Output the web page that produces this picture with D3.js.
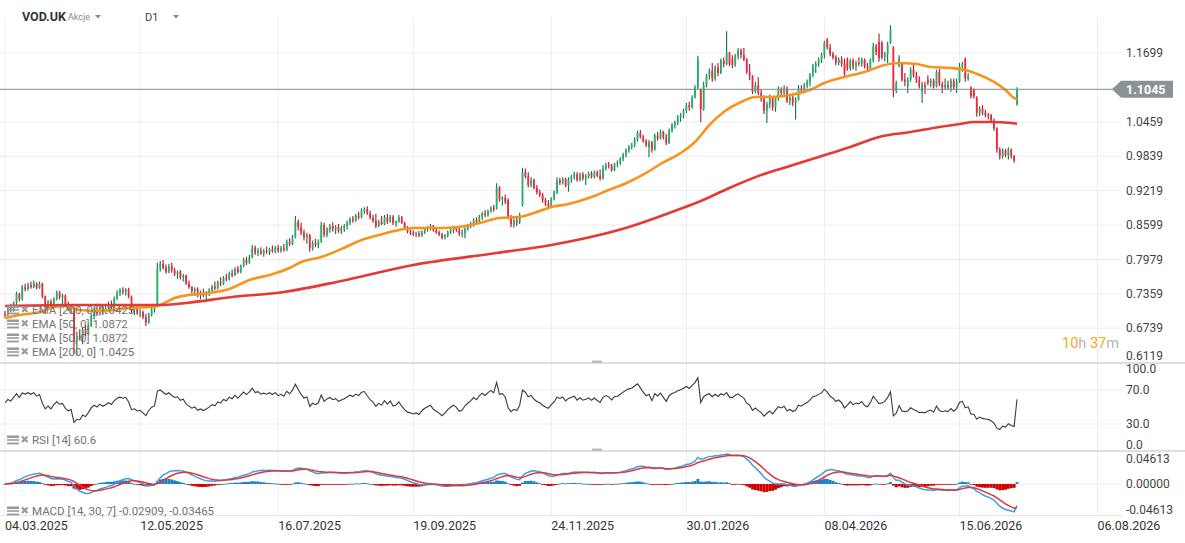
<!DOCTYPE html>
<html><head><meta charset="utf-8">
<script src="https://cdn.jsdelivr.net/npm/d3@7"></script>
<style>
body{margin:0;background:#fff;font-family:Roboto,"Open Sans",sans-serif;}
svg{display:block}
</style></head><body><svg id="c" width="1185" height="543"></svg>
<script>
// ---- DATA ----
// daily candles [open, high, low, close], trading day index = position in array
const candles = [
[0.700,0.705,0.693,0.698],[0.698,0.712,0.696,0.710],[0.710,0.718,0.703,0.706],[0.706,0.722,0.704,0.720],[0.720,0.740,0.716,0.736],
[0.736,0.738,0.722,0.726],[0.726,0.752,0.724,0.748],[0.748,0.754,0.740,0.745],[0.745,0.756,0.742,0.752],[0.752,0.758,0.745,0.748],
[0.748,0.760,0.746,0.755],[0.755,0.757,0.744,0.747],[0.747,0.758,0.745,0.754],[0.754,0.756,0.728,0.731],[0.731,0.733,0.700,0.712],
[0.712,0.725,0.708,0.722],[0.722,0.726,0.708,0.712],[0.712,0.730,0.710,0.727],[0.727,0.742,0.724,0.738],[0.738,0.741,0.726,0.730],
[0.730,0.736,0.718,0.733],[0.733,0.735,0.714,0.717],[0.717,0.722,0.705,0.708],[0.708,0.716,0.700,0.712],[0.705,0.708,0.628,0.650],
[0.650,0.668,0.626,0.660],[0.660,0.672,0.652,0.656],[0.656,0.676,0.645,0.672],[0.672,0.680,0.660,0.664],[0.664,0.682,0.662,0.678],
[0.678,0.700,0.676,0.696],[0.696,0.712,0.690,0.707],[0.707,0.718,0.696,0.700],[0.700,0.716,0.697,0.712],[0.712,0.716,0.698,0.704],
[0.704,0.714,0.700,0.710],[0.710,0.722,0.706,0.718],[0.718,0.724,0.708,0.712],[0.712,0.731,0.710,0.728],[0.728,0.742,0.725,0.738],
[0.738,0.746,0.732,0.743],[0.743,0.748,0.735,0.740],[0.740,0.746,0.733,0.744],[0.744,0.747,0.728,0.731],[0.731,0.733,0.702,0.706],
[0.706,0.712,0.698,0.709],[0.709,0.714,0.698,0.701],[0.701,0.708,0.694,0.703],[0.703,0.706,0.690,0.694],[0.694,0.700,0.678,0.684],
[0.684,0.702,0.682,0.698],[0.698,0.712,0.695,0.708],[0.708,0.716,0.702,0.712],[0.715,0.792,0.712,0.782],[0.782,0.795,0.776,0.790],
[0.790,0.797,0.780,0.783],[0.783,0.789,0.772,0.776],[0.776,0.790,0.773,0.786],[0.786,0.792,0.774,0.778],[0.778,0.783,0.768,0.772],
[0.772,0.778,0.763,0.775],[0.775,0.779,0.762,0.765],[0.765,0.772,0.758,0.769],[0.769,0.771,0.752,0.755],[0.755,0.760,0.745,0.748],
[0.748,0.750,0.736,0.741],[0.741,0.748,0.732,0.745],[0.745,0.748,0.730,0.734],[0.734,0.742,0.726,0.738],[0.738,0.745,0.730,0.733],
[0.733,0.741,0.724,0.737],[0.737,0.746,0.732,0.742],[0.742,0.752,0.738,0.749],[0.749,0.758,0.742,0.746],[0.746,0.760,0.744,0.757],
[0.757,0.766,0.750,0.754],[0.754,0.768,0.752,0.765],[0.765,0.772,0.758,0.762],[0.762,0.776,0.760,0.773],[0.773,0.780,0.766,0.770],
[0.770,0.784,0.768,0.781],[0.781,0.786,0.772,0.775],[0.775,0.789,0.773,0.786],[0.786,0.801,0.784,0.797],[0.797,0.803,0.788,0.792],
[0.792,0.806,0.790,0.802],[0.802,0.824,0.800,0.819],[0.819,0.823,0.806,0.810],[0.810,0.818,0.804,0.814],[0.814,0.820,0.806,0.809],
[0.809,0.817,0.803,0.813],[0.813,0.821,0.808,0.811],[0.811,0.819,0.806,0.816],[0.816,0.823,0.810,0.813],[0.813,0.822,0.809,0.819],
[0.819,0.824,0.810,0.814],[0.814,0.822,0.810,0.818],[0.818,0.826,0.812,0.815],[0.815,0.834,0.813,0.830],[0.830,0.836,0.822,0.826],
[0.826,0.842,0.824,0.838],[0.838,0.876,0.836,0.866],[0.866,0.870,0.850,0.856],[0.856,0.864,0.842,0.846],[0.846,0.852,0.832,0.838],
[0.838,0.846,0.826,0.842],[0.842,0.844,0.812,0.818],[0.818,0.832,0.814,0.828],[0.828,0.835,0.820,0.824],[0.824,0.834,0.818,0.830],
[0.830,0.866,0.828,0.860],[0.860,0.864,0.838,0.842],[0.842,0.856,0.838,0.852],[0.852,0.862,0.846,0.858],[0.858,0.865,0.848,0.852],
[0.852,0.860,0.844,0.856],[0.856,0.862,0.846,0.849],[0.849,0.858,0.844,0.854],[0.854,0.862,0.848,0.858],[0.858,0.868,0.852,0.864],
[0.864,0.874,0.860,0.871],[0.871,0.876,0.864,0.868],[0.868,0.880,0.866,0.877],[0.877,0.884,0.870,0.874],[0.874,0.890,0.872,0.886],
[0.886,0.892,0.880,0.889],[0.889,0.894,0.878,0.881],[0.881,0.886,0.870,0.873],[0.873,0.878,0.864,0.868],[0.868,0.880,0.854,0.858],
[0.858,0.870,0.856,0.866],[0.866,0.876,0.860,0.862],[0.862,0.878,0.860,0.874],[0.874,0.880,0.862,0.866],[0.866,0.878,0.864,0.875],
[0.875,0.878,0.860,0.863],[0.863,0.868,0.857,0.866],[0.866,0.878,0.864,0.874],[0.874,0.876,0.862,0.864],[0.864,0.866,0.852,0.855],
[0.855,0.858,0.845,0.848],[0.848,0.852,0.842,0.846],[0.846,0.850,0.840,0.843],[0.843,0.848,0.838,0.845],[0.845,0.849,0.838,0.841],
[0.841,0.850,0.839,0.848],[0.848,0.856,0.844,0.853],[0.853,0.858,0.848,0.856],[0.856,0.862,0.850,0.859],[0.859,0.860,0.848,0.851],
[0.851,0.856,0.844,0.847],[0.847,0.850,0.840,0.843],[0.843,0.846,0.834,0.837],[0.837,0.844,0.834,0.841],[0.841,0.850,0.838,0.847],
[0.847,0.853,0.844,0.851],[0.851,0.858,0.845,0.855],[0.855,0.856,0.848,0.851],[0.851,0.856,0.840,0.844],[0.844,0.852,0.838,0.846],
[0.846,0.856,0.836,0.853],[0.853,0.862,0.850,0.858],[0.858,0.866,0.854,0.862],[0.862,0.872,0.857,0.869],[0.869,0.874,0.862,0.866],
[0.866,0.878,0.864,0.875],[0.875,0.884,0.869,0.881],[0.881,0.887,0.874,0.878],[0.878,0.888,0.875,0.885],[0.885,0.894,0.882,0.891],
[0.891,0.896,0.884,0.888],[0.890,0.935,0.888,0.928],[0.928,0.930,0.902,0.906],[0.906,0.912,0.895,0.909],[0.909,0.915,0.898,0.902],
[0.905,0.908,0.870,0.874],[0.874,0.878,0.856,0.861],[0.861,0.872,0.855,0.868],[0.868,0.874,0.858,0.864],[0.864,0.882,0.862,0.879],
[0.895,0.963,0.893,0.955],[0.955,0.962,0.944,0.948],[0.948,0.955,0.928,0.932],[0.932,0.946,0.928,0.941],[0.941,0.944,0.924,0.927],
[0.927,0.932,0.915,0.919],[0.919,0.924,0.910,0.914],[0.914,0.918,0.900,0.905],[0.905,0.909,0.894,0.898],[0.898,0.905,0.888,0.893],
[0.893,0.910,0.891,0.907],[0.907,0.922,0.904,0.918],[0.918,0.946,0.916,0.940],[0.940,0.945,0.932,0.936],[0.936,0.946,0.933,0.943],
[0.943,0.945,0.928,0.931],[0.931,0.946,0.920,0.942],[0.942,0.950,0.936,0.947],[0.947,0.956,0.942,0.952],[0.952,0.955,0.938,0.941],
[0.941,0.954,0.939,0.951],[0.951,0.955,0.940,0.944],[0.944,0.952,0.932,0.948],[0.948,0.956,0.944,0.953],[0.953,0.957,0.944,0.947],
[0.947,0.958,0.944,0.955],[0.955,0.958,0.946,0.949],[0.949,0.960,0.940,0.944],[0.944,0.968,0.942,0.962],[0.962,0.972,0.958,0.969],
[0.969,0.974,0.962,0.966],[0.966,0.970,0.956,0.959],[0.959,0.972,0.957,0.970],[0.970,0.976,0.964,0.972],[0.972,0.982,0.968,0.979],
[0.979,0.990,0.975,0.987],[0.987,0.998,0.982,0.995],[0.995,1.004,0.990,1.001],[1.001,1.008,0.996,1.004],[1.004,1.018,1.000,1.014],
[1.014,1.030,1.010,1.026],[1.026,1.031,1.016,1.019],[1.019,1.022,1.008,1.011],[1.011,1.015,1.000,1.004],[1.000,1.013,0.982,1.009],
[1.009,1.012,0.990,0.996],[0.996,1.025,0.994,1.021],[1.021,1.028,1.012,1.016],[1.016,1.032,1.014,1.028],[1.028,1.030,1.014,1.018],
[1.018,1.024,1.004,1.008],[1.008,1.034,1.006,1.030],[1.030,1.044,1.026,1.040],[1.040,1.048,1.034,1.045],[1.045,1.058,1.040,1.054],
[1.054,1.062,1.046,1.058],[1.058,1.070,1.052,1.066],[1.066,1.080,1.062,1.076],[1.076,1.082,1.066,1.072],[1.072,1.094,1.070,1.090],
[1.090,1.112,1.088,1.108],[1.108,1.165,1.105,1.158],[1.104,1.106,1.045,1.068],[1.068,1.118,1.066,1.112],[1.112,1.132,1.108,1.128],
[1.128,1.142,1.122,1.138],[1.138,1.152,1.118,1.124],[1.124,1.148,1.120,1.144],[1.144,1.152,1.128,1.134],[1.134,1.160,1.132,1.156],
[1.156,1.162,1.144,1.150],[1.150,1.209,1.148,1.170],[1.170,1.172,1.146,1.150],[1.160,1.166,1.143,1.148],[1.148,1.168,1.145,1.164],
[1.164,1.179,1.158,1.175],[1.175,1.178,1.160,1.166],[1.166,1.179,1.155,1.158],[1.158,1.161,1.132,1.136],[1.136,1.150,1.121,1.128],
[1.128,1.130,1.096,1.100],[1.100,1.118,1.098,1.112],[1.112,1.126,1.094,1.098],[1.098,1.104,1.082,1.088],[1.088,1.094,1.060,1.066],
[1.066,1.082,1.044,1.078],[1.078,1.095,1.070,1.088],[1.088,1.092,1.066,1.072],[1.072,1.092,1.064,1.088],[1.088,1.110,1.084,1.104],
[1.104,1.108,1.092,1.098],[1.098,1.112,1.090,1.106],[1.106,1.110,1.080,1.084],[1.084,1.094,1.076,1.090],[1.090,1.096,1.074,1.080],
[1.080,1.090,1.050,1.086],[1.086,1.112,1.084,1.106],[1.106,1.112,1.098,1.102],[1.102,1.116,1.100,1.112],[1.112,1.122,1.106,1.118],
[1.118,1.134,1.110,1.130],[1.130,1.150,1.126,1.146],[1.146,1.155,1.134,1.150],[1.150,1.162,1.145,1.158],[1.158,1.170,1.152,1.166],
[1.166,1.192,1.160,1.188],[1.195,1.197,1.176,1.180],[1.180,1.186,1.164,1.168],[1.168,1.172,1.158,1.162],[1.162,1.166,1.148,1.152],
[1.152,1.162,1.148,1.158],[1.158,1.164,1.145,1.150],[1.150,1.160,1.127,1.132],[1.158,1.162,1.138,1.142],[1.142,1.160,1.138,1.156],
[1.156,1.160,1.140,1.146],[1.146,1.156,1.138,1.152],[1.152,1.162,1.146,1.150],[1.150,1.162,1.145,1.158],[1.158,1.160,1.142,1.146],
[1.146,1.152,1.138,1.142],[1.142,1.160,1.140,1.156],[1.156,1.188,1.153,1.182],[1.182,1.186,1.166,1.172],[1.190,1.205,1.154,1.160],
[1.188,1.192,1.158,1.162],[1.162,1.172,1.155,1.168],[1.168,1.190,1.152,1.184],[1.188,1.220,1.186,1.212],[1.180,1.182,1.090,1.102],
[1.102,1.120,1.098,1.116],[1.146,1.166,1.144,1.160],[1.150,1.152,1.118,1.122],[1.122,1.134,1.110,1.118],[1.110,1.126,1.098,1.122],
[1.122,1.144,1.118,1.140],[1.140,1.150,1.126,1.130],[1.130,1.136,1.116,1.122],[1.122,1.128,1.106,1.110],[1.100,1.118,1.080,1.112],
[1.112,1.118,1.096,1.108],[1.122,1.130,1.112,1.116],[1.116,1.124,1.108,1.120],[1.120,1.124,1.106,1.110],[1.110,1.140,1.108,1.136],
[1.136,1.142,1.110,1.114],[1.114,1.118,1.098,1.108],[1.108,1.124,1.104,1.112],[1.112,1.120,1.104,1.108],[1.108,1.124,1.100,1.120],
[1.120,1.124,1.104,1.108],[1.108,1.124,1.098,1.118],[1.118,1.152,1.116,1.146],[1.146,1.154,1.136,1.150],[1.160,1.162,1.118,1.124],
[1.124,1.134,1.120,1.128],[1.108,1.110,1.088,1.092],[1.104,1.106,1.088,1.092],[1.090,1.092,1.055,1.062],[1.062,1.074,1.056,1.070],
[1.070,1.076,1.058,1.062],[1.062,1.068,1.054,1.058],[1.058,1.062,1.050,1.056],[1.058,1.060,1.044,1.048],[1.048,1.052,1.030,1.034],
[1.034,1.036,0.990,0.996],[0.996,1.000,0.978,0.984],[0.984,0.998,0.980,0.994],[0.994,0.997,0.982,0.986],[0.986,1.000,0.978,0.996],
[0.996,0.998,0.980,0.984],[0.984,0.986,0.972,0.976],[1.078,1.108,1.075,1.1045]
];

// EMA lines: day index and value
const ema50Days = [0,5,12,17,21,26,33,43,50,54,59,64,71,78,85,92,99,103,110,117,124,130,137,142,151,158,165,172,179,184,190,196,204,210,217,223,228,235,240,245,250,256,261,266,273,280,285,292,299,306,311,317,322,329,334,339,344,348,351,352];
const ema50Vals = [0.6924,0.6978,0.7032,0.7123,0.7141,0.7068,0.7050,0.7105,0.7123,0.7159,0.7285,0.7339,0.7375,0.7447,0.7609,0.7699,0.7825,0.7933,0.8023,0.8167,0.8330,0.8420,0.8510,0.8546,0.8546,0.8564,0.8636,0.8726,0.8744,0.8816,0.8924,0.8978,0.9104,0.9231,0.9375,0.9537,0.9699,0.9897,1.0095,1.0402,1.0636,1.0816,1.0906,1.0906,1.0942,1.1032,1.1158,1.1266,1.1357,1.1483,1.1519,1.1501,1.1447,1.1429,1.1393,1.1303,1.1177,1.1032,1.0888,1.0872];
const ema200Days = [0,21,53,63,79,97,117,142,171,190,217,231,242,252,264,273,283,294,304,315,325,332,337,343,350,352];
const ema200Vals = [0.7140,0.7159,0.7159,0.7195,0.7303,0.7393,0.7591,0.7880,0.8096,0.8240,0.8564,0.8816,0.9032,0.9267,0.9519,0.9663,0.9825,1.0005,1.0185,1.0276,1.0366,1.0420,1.0456,1.0456,1.0438,1.0425];

const priceTicks = [0.6119,0.6739,0.7359,0.7979,0.8599,0.9219,0.9839,1.0459,1.1699];
const lastPrice = 1.1045;
const dateLabels = ["04.03.2025","12.05.2025","16.07.2025","19.09.2025","24.11.2025","30.01.2026","08.04.2026","15.06.2026","06.08.2026"];
const dateDays = [0,47,95,142,190,237,285,332,380];
const rsiTicks = [0,30,70,100];
const rsiSeed = {gain:0.0055, loss:0.0045};
const macdTicks = [-0.04613,0,0.04613];
const emaLegend = ["EMA [200, 0] 1.0425","EMA [50, 0] 1.0872","EMA [50, 0] 1.0872","EMA [200, 0] 1.0425"];
const rsiLegend = "RSI [14] 60.6";
const macdLegend = "MACD [14, 30, 7] -0.02909, -0.03465";

// ---- INDICATORS (standard definitions, from closes) ----
const closes = candles.map(d=>d[3]);
const rsi = [];
{ let ag=rsiSeed.gain, al=rsiSeed.loss;
  closes.forEach((c,i)=>{ if(i>0){const ch=c-closes[i-1]; ag=(ag*13+Math.max(ch,0))/14; al=(al*13+Math.max(-ch,0))/14;}
    rsi.push(100-100/(1+ag/al)); }); }
const macd=[], signal=[];
{ let e14=closes[0], e30=closes[0], s=0;
  closes.forEach((c,i)=>{ e14=e14+(c-e14)*2/15; e30=e30+(c-e30)*2/31; const m=e14-e30; s = i===0? m : s+(m-s)*2/8; macd.push(m); signal.push(s); }); }

// ---- DRAW ----
const svg = d3.select("#c");
const W=1185;
const x = d3.scaleLinear().domain([0,380]).range([5,1097.5]);
const yP = d3.scaleLinear().domain([0.6119,1.1699]).range([362.7,53]);
const yR = d3.scaleLinear().domain([0,100]).range([449.5,364.5]);
const yM = d3.scaleLinear().domain([-0.04613,0.04613]).range([519,449]);
const gridC="#ededed";

const defs=svg.append("defs");
defs.append("clipPath").attr("id","cp").append("rect").attr("x",0).attr("y",14).attr("width",1122).attr("height",349);
defs.append("clipPath").attr("id","cr").append("rect").attr("x",0).attr("y",364).attr("width",1122).attr("height",86);
defs.append("clipPath").attr("id","cm").append("rect").attr("x",0).attr("y",452).attr("width",1122).attr("height",63);

// vertical grid + date labels
svg.append("g").selectAll("line").data(dateDays).join("line")
  .attr("x1",d=>x(d)).attr("x2",d=>x(d)).attr("y1",17).attr("y2",515).attr("stroke",gridC);
svg.append("g").selectAll("text").data(dateLabels).join("text")
  .attr("x",(d,i)=>x(dateDays[i])).attr("y",530).attr("font-size",12.5).attr("fill","#333").text(d=>d);

// horizontal grids
svg.append("g").selectAll("line").data(priceTicks.slice(1)).join("line")
  .attr("x1",0).attr("x2",1122).attr("y1",d=>yP(d)).attr("y2",d=>yP(d)).attr("stroke",gridC);
svg.append("g").selectAll("line").data([30,70]).join("line")
  .attr("x1",0).attr("x2",1122).attr("y1",d=>yR(d)).attr("y2",d=>yR(d)).attr("stroke",gridC);
svg.append("line").attr("x1",0).attr("x2",1122).attr("y1",yM(0)).attr("y2",yM(0)).attr("stroke",gridC);
svg.append("line").attr("x1",0).attr("x2",1122).attr("y1",515.5).attr("y2",515.5).attr("stroke","#e4e4e4");

// separators
[363,451].forEach(y=>{
  svg.append("line").attr("x1",0).attr("x2",W).attr("y1",y).attr("y2",y).attr("stroke","#d4d4d4").attr("stroke-width",1.5);
  svg.append("rect").attr("x",592).attr("y",y-2.5).attr("width",10).attr("height",2.5).attr("fill","#bdbdbd");
});

// y labels
const lab = (y,t)=>svg.append("text").attr("x",1126).attr("y",y).attr("dy","0.35em").attr("font-size",12).attr("fill","#444").text(t);
priceTicks.forEach(v=>lab(v===0.6119?356:yP(v), v.toFixed(4)));
rsiTicks.forEach(v=>lab(v===100?369:(v===0?444.5:yR(v)), v.toFixed(1)));
macdTicks.forEach(v=>lab(v>0?458.5:(v<0?510:yM(v)), v.toFixed(5)));

// candles
const gc = svg.append("g").attr("clip-path","url(#cp)");
const up = d=>d[3]>=d[0];
gc.selectAll("line").data(candles).join("line")
  .attr("x1",(d,i)=>x(i)).attr("x2",(d,i)=>x(i)).attr("y1",d=>yP(d[1])).attr("y2",d=>yP(d[2]))
  .attr("stroke",d=>up(d)?"#12703f":"#a3172b").attr("stroke-width",1.1);
gc.selectAll("rect").data(candles).join("rect")
  .attr("x",(d,i)=>x(i)-0.9).attr("width",1.8)
  .attr("y",d=>yP(Math.max(d[0],d[3]))).attr("height",d=>Math.max(1,Math.abs(yP(d[0])-yP(d[3]))))
  .attr("fill",d=>up(d)?"#22b06c":"#f0283e");

// EMAs
const line = (xs,ys,sc)=>d3.line().x((d,i)=>x(xs[i])).y(d=>sc(d)).curve(d3.curveMonotoneX)(ys);
gc.append("path").attr("d",line(ema50Days,ema50Vals,yP)).attr("fill","none").attr("stroke","#f7941d").attr("stroke-width",2.6);
gc.append("path").attr("d",line(ema200Days,ema200Vals,yP)).attr("fill","none").attr("stroke","#e53935").attr("stroke-width",2.6);

// last price line & label
svg.append("line").attr("x1",0).attr("x2",1113).attr("y1",yP(lastPrice)).attr("y2",yP(lastPrice)).attr("stroke","#7d8b8d").attr("stroke-width",1);
const ly=yP(lastPrice);
svg.append("path").attr("d",`M1112,${ly} L1121,${ly-8.5} L1173,${ly-8.5} L1173,${ly+8.5} L1121,${ly+8.5} Z`).attr("fill","#8a9296");
svg.append("text").attr("x",1126).attr("y",ly).attr("dy","0.36em").attr("font-size",12.5).attr("font-weight","bold").attr("fill","#fff").text(lastPrice.toFixed(4));

// countdown
const cd = svg.append("text").attr("x",1062).attr("y",343).attr("dy","0.35em").attr("font-size",14.5);
cd.append("tspan").attr("fill","#f5a623").text("10");
cd.append("tspan").attr("fill","#b5b5b5").text("h ");
cd.append("tspan").attr("fill","#f5a623").text("37");
cd.append("tspan").attr("fill","#b5b5b5").text("m");

// RSI
svg.append("g").attr("clip-path","url(#cr)").append("path")
  .attr("d",d3.line().x((d,i)=>x(i)).y(d=>yR(d))(rsi)).attr("fill","none").attr("stroke","#3a3a3a").attr("stroke-width",1.1);

// MACD
const gm = svg.append("g").attr("clip-path","url(#cm)");
gm.selectAll("rect").data(macd).join("rect")
  .attr("x",(d,i)=>x(i)-1.45).attr("width",2.9)
  .attr("y",(d,i)=>yM(Math.max(0,d-signal[i]))).attr("height",(d,i)=>Math.max(0.8,Math.abs(yM(d-signal[i])-yM(0))))
  .attr("fill",(d,i)=>d-signal[i]>=0?"#1a7fc3":"#d10000");
gm.append("path").attr("d",d3.line().x((d,i)=>x(i)).y(d=>yM(d))(macd)).attr("fill","none").attr("stroke","#3d9fe0").attr("stroke-width",1.5);
gm.append("path").attr("d",d3.line().x((d,i)=>x(i)).y(d=>yM(d))(signal)).attr("fill","none").attr("stroke","#e0363c").attr("stroke-width",1.5);

// legends
function legend(y,t){
  const g=svg.append("g").attr("transform",`translate(0,${y})`);
  g.append("rect").attr("x",7).attr("y",-4.5).attr("width",12).attr("height",2.5).attr("fill","#9a9a9a");
  g.append("rect").attr("x",7).attr("y",-0.8).attr("width",12).attr("height",1.6).attr("fill","#9a9a9a");
  g.append("rect").attr("x",7).attr("y",2.6).attr("width",12).attr("height",1.8).attr("fill","#9a9a9a");
  g.append("path").attr("d","M22,-3.5 L27.5,2 M27.5,-3.5 L22,2").attr("stroke","#9a9a9a").attr("stroke-width",2.2);
  g.append("text").attr("x",32).attr("y",0).attr("dy","0.35em").attr("font-size",11.5).attr("fill","#737373").text(t);
}
emaLegend.forEach((t,i)=>legend(310+i*14,t));
legend(440,rsiLegend);
legend(511,macdLegend);

// header
svg.append("text").attr("x",22).attr("y",21).attr("font-size",12.5).attr("font-weight","bold").attr("fill","#333").text("VOD.UK");
svg.append("text").attr("x",68).attr("y",20).attr("font-size",9).attr("fill","#888").text("Akcje");
svg.append("path").attr("d","M95,15 L101,15 L98,18.5 Z").attr("fill","#888");
svg.append("text").attr("x",145).attr("y",21).attr("font-size",11).attr("fill","#444").text("D1");
svg.append("path").attr("d","M173,15 L179,15 L176,18.5 Z").attr("fill","#888");
</script></body></html>
